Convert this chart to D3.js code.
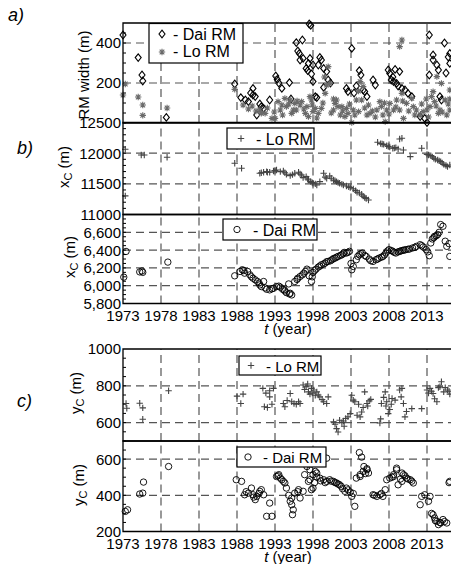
<!DOCTYPE html>
<html>
<head>
<meta charset="utf-8">
<script src="https://cdn.jsdelivr.net/npm/d3@7"></script>
<style>
body { margin: 0; background: #fff; }
svg { display: block; font-family: "Liberation Sans", Arial, sans-serif; }
</style>
</head>
<body>
<div class="container"></div>
<script>
"use strict";

var width = 451;
var height = 564;

var yearTicks = [1973, 1978, 1983, 1988, 1993, 1998, 2003, 2008, 2013];

// a) RM width (m), [year, value]
var daiWidth = [
    [1973.0,440],[1975.0,327],[1975.5,240],[1975.6,210],[1978.7,28],
    [1987.7,195],[1988.5,127],[1989.1,115],[1989.5,107],[1990.1,173],[1990.1,140],[1990.4,132],
    [1990.6,40],[1991.2,82],[1991.5,73],[1992.3,115],[1993.1,235],[1993.3,218],[1993.9,173],
    [1994.9,202],[1995.1,120],[1995.8,402],[1996.6,415],[1996.2,348],[1996.3,315],[1996.7,323],
    [1997.1,273],[1997.3,262],[1997.5,495],[1997.7,488],[1997.4,298],[1997.6,323],[1998.0,290],
    [1997.8,245],[1998.0,207],[1998.3,132],[1998.5,127],[1998.9,328],[1999.1,315],[1999.4,273],
    [1999.8,257],[2000.0,215],[1999.4,178],[2003.1,373],[2004.1,262],[2002.4,173],[2002.6,157],
    [2003.7,185],[2004.6,165],[2004.8,157],[2005.1,132],[2005.9,215],[2006.2,190],[2007.9,265],
    [2008.1,248],[2008.8,268],[2009.4,257],[2008.3,215],[2008.6,207],[2009.0,198],[2009.7,173],
    [2010.1,165],[2010.5,148],[2011.0,132],[2012.1,32],[2012.7,23],[2013.0,2],[2013.3,440],
    [2013.8,340],[2013.8,315],[2014.3,290],[2014.5,265],[2013.3,240],[2014.7,132],[2014.9,115],
    [2016.0,348],[2016.0,298],
    [1989.8,150],[1991.0,95],[1993.5,200],[1996.0,360],[1998.7,290],[2000.3,200],[2003.4,150],
    [2004.3,240],[2008.5,230],[2009.2,185],[2015.3,400],[2015.8,330],[2015.5,250]
];
var loWidth = [
    [1973.3,195],[1973.0,140],[1975.0,130],[1975.6,90],[1975.6,38],[1978.8,75],
    [1987.7,168],[1988.8,90],[1991.0,65],[1991.2,48],[1991.7,48],[1992.6,23],[1993.0,23],
    [1993.9,90],[1994.5,82],[1995.0,115],[1995.4,65],[1995.8,65],[1996.3,90],[1997.0,48],
    [1997.4,32],[1998.3,73],[1997.8,115],[2000.0,282],[1999.8,190],[2000.2,198],[2000.9,98],
    [2001.3,82],[2001.6,40],[2002.2,32],[2002.6,48],[2003.1,2],[2003.7,115],[2004.2,207],
    [2004.6,182],[2005.1,40],[2005.5,48],[2007.0,82],[2007.2,40],[2007.5,7],[2008.1,98],
    [2008.6,65],[2009.7,148],[2009.9,23],[2009.7,415],[2009.4,382],[2011.2,82],[2011.0,123],
    [2012.5,57],[2013.4,82],[2013.6,132],[2013.8,157],[2014.5,48],[2014.9,198],[2016.0,165],
    [2016.0,65],[1993.4,107],[1993.7,65],[1994.3,123],[1995.2,48],[1995.6,98],[1996.5,107],
    [1997.2,82],[1997.6,132],[1998.0,57],[1998.7,48],[1999.1,73],[1999.6,148],[2000.7,65],
    [2001.1,115],[2001.8,82],[2002.4,73],[2003.3,65],[2004.0,57],[2004.4,115],[2005.3,90],
    [2006.4,65],[2006.8,107],[2007.7,65],[2009.0,115],[2009.4,65],[2010.3,98],[2011.6,65],
    [2012.1,40],[2013.0,65],[2014.0,107],[2014.7,65],[2015.4,115],[2015.6,40],[2014.3,232],
    [1989.5,70],[1990.0,85],[1990.5,60],[1992.0,75],[1992.9,55],[1994.0,40],[1994.8,95],
    [1995.9,110],[1996.8,70],[1997.9,90],[1998.5,25],[1999.3,100],[2000.4,50],[2000.7,120],
    [2001.9,60],[2002.8,95],[2003.5,40],[2004.8,75],[2005.8,60],[2006.2,30],[2007.4,100],
    [2008.0,45],[2008.9,80],[2009.8,110],[2010.6,60],[2011.4,40],[2012.3,95],[2012.9,120],
    [2013.2,30],[2014.2,85],[2015.0,55],[2015.8,95],[2016.0,120],[1999.5,230],[2004.0,160]
];

// b) x_C (m)
var loXc = [
    [1973.3,12063],[1973.3,11303],[1975.4,11971],[1975.8,11971],[1978.8,11933],
    [1987.7,11835],[1988.6,11753],[1991.0,11672],[1991.5,11688],[1991.9,11699],[1992.3,11688],
    [1992.8,11710],[1993.2,11726],[1993.7,11699],[1994.1,11710],[1994.5,11656],[1995.0,11634],
    [1995.6,11672],[1996.1,11688],[1996.5,11645],[1996.7,11601],[1997.1,11617],[1997.4,11563],
    [1997.7,11536],[1998.0,11509],[1998.5,11482],[1998.9,11536],[1999.4,11672],[1999.8,11590],
    [2000.2,11628],[2000.7,11563],[2001.1,11536],[2001.5,11509],[2002.0,11482],[2002.4,11465],
    [2002.9,11438],[2003.3,11417],[2003.8,11362],[2004.4,11330],[2004.8,11275],[2005.3,11237],
    [2006.5,12177],[2006.9,12155],[2007.3,12144],[2007.7,12122],[2008.1,12101],[2008.5,12079],
    [2008.9,12090],[2009.4,12231],[2009.7,12242],[2009.2,12068],[2009.9,12052],[2010.8,11943],
    [2012.3,12079],[2013.0,11981],[2013.5,11960],[2013.9,11916],[2014.4,11889],[2014.8,11862],
    [2015.2,11818],[2015.7,11780],[2016.0,11808],
    [1991.2,11680],[1992.0,11690],[1993.0,11715],[1994.3,11680],[1995.3,11650],[1996.3,11660],
    [1997.3,11580],[1997.9,11520],[1998.3,11500],[1999.6,11610],[2000.4,11590],[2000.9,11550],
    [2001.3,11520],[2001.8,11495],[2002.7,11450],[2003.6,11390],[2004.1,11350],[2004.6,11300],
    [2005.0,11260],[2007.1,12150],[2007.9,12110],[2008.7,12085],[2013.2,11970],[2013.7,11940],
    [2014.1,11900],[2014.6,11875],[2015.0,11840],[2015.5,11800]
];
var daiXc = [
    [1973.1,6096],[1973.4,6385],[1975.2,6155],[1975.6,6150],[1975.5,6165],[1978.9,6265],
    [1987.7,6111],[1988.4,6160],[1988.7,6179],[1989.0,6141],[1989.4,6160],[1989.7,6122],
    [1990.1,6084],[1990.4,6066],[1990.7,6047],[1991.0,6009],[1991.2,5990],[1991.5,6047],
    [1991.9,5960],[1992.3,5953],[1992.8,5971],[1993.2,5990],[1993.7,5983],[1994.0,5960],
    [1994.3,5941],[1994.5,5922],[1994.9,5907],[1995.2,5896],[1994.8,6020],[1995.6,6047],
    [1996.0,6084],[1996.3,6103],[1996.6,6122],[1997.0,6160],[1997.2,6186],[1997.5,6111],
    [1997.8,6047],[1998.0,6148],[1998.4,6186],[1998.7,6209],[1999.1,6235],[1999.6,6254],
    [2000.0,6273],[2000.5,6292],[2000.9,6310],[2001.3,6329],[2001.8,6348],[2002.1,6374],
    [2002.4,6367],[2002.8,6386],[2003.1,6179],[2003.3,6216],[2003.7,6292],[2004.1,6348],
    [2004.5,6367],[2005.0,6329],[2005.4,6299],[2005.9,6273],[2006.3,6292],[2006.7,6310],
    [2007.2,6329],[2007.6,6367],[2008.0,6405],[2008.5,6386],[2008.9,6367],[2009.4,6386],
    [2009.8,6397],[2010.2,6405],[2010.7,6412],[2011.1,6424],[2011.6,6442],[2012.1,6461],
    [2012.5,6435],[2012.9,6405],[2013.3,6337],[2013.5,6480],[2013.7,6525],[2014.0,6555],
    [2014.4,6574],[2014.8,6687],[2015.1,6668],[2015.6,6442],[2015.9,6472],[2016.0,6329],
    [1988.9,6170],[1989.9,6100],[1990.9,6030],[1991.7,5975],[1992.6,5965],[1993.5,5995],
    [1994.2,5955],[1995.0,5915],[1995.9,6070],[1996.8,6140],[1997.9,6100],[1998.2,6170],
    [1998.9,6220],[1999.4,6245],[1999.8,6270],[2000.3,6280],[2000.7,6305],[2001.1,6320],
    [2001.6,6340],[2002.0,6360],[2002.6,6375],[2003.0,6250],[2003.9,6330],[2004.3,6360],
    [2004.8,6340],[2005.6,6280],[2006.5,6300],[2007.0,6320],[2007.4,6345],[2007.8,6390],
    [2008.3,6395],[2008.7,6375],[2009.2,6380],[2009.6,6392],[2010.0,6400],[2010.5,6410],
    [2011.4,6430],[2012.3,6450],[2013.1,6380],[2013.9,6540],[2014.2,6560],[2014.6,6600],
    [2015.4,6500]
];

// c) y_C (m)
var loYc = [
    [1973.4,704],[1973.5,678],[1975.2,705],[1975.6,680],[1975.6,618],[1979.0,773],
    [1988.0,744],[1988.8,755],[1988.5,704],[1991.4,786],[1991.6,686],[1992.0,682],[1992.3,773],
    [1992.8,786],[1992.3,740],[1994.1,704],[1994.3,686],[1995.0,758],[1995.2,713],[1995.5,704],
    [1996.1,713],[1996.3,704],[1996.7,804],[1997.1,795],[1997.4,767],[1997.6,755],[1997.8,786],
    [1998.1,777],[1998.3,749],[1998.5,767],[1998.9,740],[1999.4,713],[1999.8,704],[2000.0,740],
    [2000.7,604],[2000.9,591],[2001.1,567],[2001.3,549],[2001.5,613],[2002.0,609],[2002.3,622],
    [2002.6,631],[2002.9,649],[2003.1,749],[2003.3,722],[2003.5,713],[2004.2,631],[2004.4,658],
    [2004.6,682],[2004.8,767],[2005.1,704],[2005.4,718],[2005.6,726],[2006.8,598],[2007.0,704],
    [2007.3,737],[2007.5,767],[2007.7,713],[2007.9,649],[2008.1,671],[2008.4,731],[2008.8,722],
    [2009.4,777],[2009.7,786],[2009.9,704],[2010.1,631],[2011.0,676],[2012.3,676],[2013.0,777],
    [2013.4,786],[2013.8,758],[2014.3,713],[2014.7,795],[2014.9,822],[2015.2,767],[2015.7,777],
    [2016.0,755],
    [1991.8,760],[1992.6,700],[1994.6,720],[1995.8,700],[1996.9,780],[1997.3,810],[1997.9,760],
    [1998.7,750],[1999.2,725],[2001.8,600],[2002.1,580],[2003.8,640],[2004.0,700],[2005.2,690],
    [2006.9,620],[2007.6,690],[2008.3,700],[2009.6,740],[2010.3,660],[2013.2,760],[2013.6,770],
    [2014.0,730],[2014.5,790],[2015.4,790],[2015.9,770]
];
var daiYc = [
    [1973.3,311],[1973.6,320],[1975.2,407],[1975.6,412],[1975.7,473],[1979.0,559],
    [1987.9,486],[1988.6,477],[1989.0,403],[1989.5,412],[1989.9,440],[1990.1,403],[1990.4,376],
    [1990.6,394],[1991.0,422],[1991.2,431],[1991.5,403],[1991.9,284],[1992.3,357],[1992.6,284],
    [1993.2,504],[1993.5,514],[1993.9,486],[1994.1,477],[1994.3,468],[1994.5,440],[1995.0,367],
    [1995.2,348],[1995.3,293],[1995.2,385],[1995.6,412],[1996.1,431],[1996.3,385],[1996.7,422],
    [1996.9,514],[1997.2,559],[1997.4,477],[1997.6,486],[1997.8,431],[1998.0,440],[1998.3,532],
    [1998.5,523],[1998.9,495],[1999.4,486],[1999.8,477],[2000.2,486],[2000.7,477],[2001.1,468],
    [2001.5,458],[2001.9,436],[2002.2,422],[2002.4,440],[2002.9,418],[2003.1,394],[2003.5,339],
    [2003.7,495],[2004.2,514],[2004.6,532],[2005.1,547],[2005.9,403],[2006.4,394],[2006.8,403],
    [2007.2,394],[2007.5,431],[2007.7,486],[2008.1,495],[2008.6,514],[2009.0,541],[2009.2,458],
    [2009.7,477],[2009.9,514],[2010.3,495],[2010.8,486],[2011.2,468],[2012.1,348],[2012.3,394],
    [2012.7,403],[2013.2,367],[2013.4,394],[2013.8,293],[2014.0,275],[2014.3,256],[2014.5,238],
    [2014.8,247],[2015.1,266],[2015.6,247],[2016.0,477],
    [1999.8,605],[2004.1,636],[2004.4,611],[2004.7,559],[2005.1,541],[2005.3,523],[2004.2,504],
    [1997.6,541],[1998.0,514],[1998.5,501],[2008.6,504],[2009.0,550],[2009.7,523],[2010.1,508],
    [1993.4,508],
    [1989.2,420],[1990.2,390],[1990.9,410],[1993.7,495],[1994.8,400],[1995.4,320],[1996.0,420],
    [1998.2,470],[1999.0,480],[1999.6,470],[2000.4,478],[2000.9,470],[2001.3,462],[2001.7,450],
    [2002.6,430],[2003.3,410],[2004.9,520],[2006.1,400],[2007.0,410],[2008.4,500],[2009.5,490],
    [2010.5,490],[2011.0,478],[2013.6,300],[2014.1,260],[2014.7,250],[2015.3,255],[2015.9,470]
];

var markers = {
    diamond: "M0,-3.8L3,0L0,3.8L-3,0Z",
    star: "M-3.2,0H3.2M0,-3.2V3.2M-2.3,-2.3L2.3,2.3M-2.3,2.3L2.3,-2.3",
    plus: "M-3.2,0H3.2M0,-3.2V3.2"
};
var markerColor = {diamond: "#000", star: "#6a6a6a", plus: "#444", circle: "#000"};

var x = d3.scaleLinear().domain([1973, 2016.5]).range([123, 123 + 43.5 * 7.6]);

var svg = d3.select(".container").append("svg")
    .attr("width", width)
    .attr("height", height);

var panels = [
    {domain: [0, 500], range: [123, 23], labels: [200, 400], grid: [200, 400], minor: 50,
     series: [{data: daiWidth, marker: "diamond"}, {data: loWidth, marker: "star"}]},
    {domain: [11000, 12500], range: [214.5, 122.5], labels: [11000, 11500, 12000, 12500], grid: [11500, 12000], minor: 100,
     series: [{data: loXc, marker: "plus"}]},
    {domain: [5800, 6800], range: [303.5, 214.5], labels: [5800, 6000, 6200, 6400, 6600], grid: [6000, 6200, 6400, 6600], minor: 50,
     format: d3.format(","), series: [{data: daiXc, marker: "circle"}], xLabels: true},
    {domain: [500, 1000], range: [441, 349], labels: [600, 800, 1000], grid: [600, 800], minor: 50,
     series: [{data: loYc, marker: "plus"}]},
    {domain: [200, 700], range: [531.5, 441], labels: [200, 400, 600], grid: [400, 600], minor: 50,
     series: [{data: daiYc, marker: "circle"}], xLabels: true}
];

function drawMarker(sel, marker) {
    if (marker == "circle") {
        sel.append("circle").attr("r", 3.2);
    } else {
        sel.append("path").attr("d", markers[marker]);
    }
    sel.attr("fill", "none")
        .attr("stroke", markerColor[marker])
        .attr("stroke-width", marker == "circle" ? 0.9 : 1.1);
}

panels.forEach(function(p) {
    var y = d3.scaleLinear().domain(p.domain).range(p.range);
    var g = svg.append("g");
    var x0 = x.range()[0], x1 = x.range()[1];

    // grid
    g.selectAll(".hgrid").data(p.grid).enter().append("line")
        .attr("x1", x0).attr("x2", x1)
        .attr("y1", y).attr("y2", y)
        .attr("stroke", "#555").attr("stroke-width", 1.2)
        .attr("stroke-dasharray", "8,5");
    g.selectAll(".vgrid").data(yearTicks.slice(1)).enter().append("line")
        .attr("x1", x).attr("x2", x)
        .attr("y1", p.range[0]).attr("y2", p.range[1])
        .attr("stroke", "#555").attr("stroke-width", 1.2)
        .attr("stroke-dasharray", "8,5");

    // minor ticks on the left axis
    g.selectAll(".minor").data(d3.range(p.domain[0], p.domain[1], p.minor)).enter().append("line")
        .attr("x1", x0).attr("x2", x0 + 3)
        .attr("y1", y).attr("y2", y)
        .attr("stroke", "#000");

    p.series.forEach(function(s) {
        g.selectAll(null).data(s.data).enter().append("g")
            .attr("transform", function(d) { return "translate(" + x(d[0]) + "," + y(d[1]) + ")"; })
            .call(drawMarker, s.marker);
    });

    // box
    g.append("path")
        .attr("d", "M" + x1 + "," + p.range[1] + "H" + x0 + "V" + p.range[0] + "H" + x1)
        .attr("fill", "none").attr("stroke", "#000").attr("stroke-width", 1.3);

    g.selectAll(".ylab").data(p.labels).enter().append("text")
        .attr("x", 121)
        .attr("y", function(d) { return y(d) + 5.4; })
        .attr("text-anchor", "end")
        .attr("font-size", 15)
        .text(p.format || String);

    if (p.xLabels) {
        g.selectAll(".xlab").data(yearTicks).enter().append("text")
            .attr("x", x)
            .attr("y", p.range[0] + 17)
            .attr("text-anchor", "middle")
            .attr("font-size", 15)
            .text(String);
        var t = g.append("text")
            .attr("x", 288).attr("y", p.range[0] + 30)
            .attr("text-anchor", "middle")
            .attr("font-size", 15);
        t.append("tspan").attr("font-style", "italic").text("t");
        t.append("tspan").text(" (year)");
    }
});

// y axis titles
function yTitle(cx, cy, main, sub) {
    var t = svg.append("text")
        .attr("transform", "translate(" + cx + "," + cy + ") rotate(-90)")
        .attr("text-anchor", "middle")
        .attr("font-size", 15);
    t.append("tspan").text(main);
    if (sub) {
        t.append("tspan").attr("font-size", 11).attr("dy", 3).text(sub);
        t.append("tspan").attr("dy", -3).text(" (m)");
    }
}
yTitle(89, 75, "RM width (m)");
yTitle(69, 167, "x", "C");
yTitle(75, 257, "x", "C");
yTitle(81, 393, "y", "C");
yTitle(84, 485, "y", "C");

// panel letters
[["a)", 8, 21], ["b)", 17, 154], ["c)", 17, 407]].forEach(function(d) {
    svg.append("text")
        .attr("x", d[1]).attr("y", d[2])
        .attr("font-size", 18).attr("font-style", "italic")
        .text(d[0]);
});

// legends
function legend(bx, by, bw, bh, rows) {
    svg.append("rect")
        .attr("x", bx).attr("y", by).attr("width", bw).attr("height", bh)
        .attr("fill", "#fff").attr("stroke", "#000").attr("stroke-width", 1.2);
    rows.forEach(function(r) {
        svg.append("g")
            .attr("transform", "translate(" + r.mx + "," + r.my + ")")
            .call(drawMarker, r.marker);
        svg.append("text")
            .attr("x", r.tx).attr("y", r.ty)
            .attr("font-size", r.size || 16)
            .text(r.label);
    });
}
legend(149, 23.5, 94, 39.5, [
    {marker: "diamond", mx: 162, my: 34, tx: 173, ty: 39.5, label: "- Dai RM"},
    {marker: "star", mx: 162, my: 52, tx: 173, ty: 57, label: "- Lo RM"}
]);
legend(227, 128, 87, 21, [{marker: "plus", mx: 241, my: 138.5, tx: 256, ty: 144.5, label: "- Lo RM"}]);
legend(223, 219, 94, 21, [{marker: "circle", mx: 237, my: 229.5, tx: 253, ty: 235.5, label: "- Dai RM"}]);
legend(239, 356, 82, 19, [{marker: "plus", mx: 251, my: 365.5, tx: 266, ty: 371.5, label: "- Lo RM", size: 15}]);
legend(237, 447, 89, 20, [{marker: "circle", mx: 248, my: 457, tx: 263, ty: 462.5, label: "- Dai RM", size: 15}]);
</script>
</body>
</html>
